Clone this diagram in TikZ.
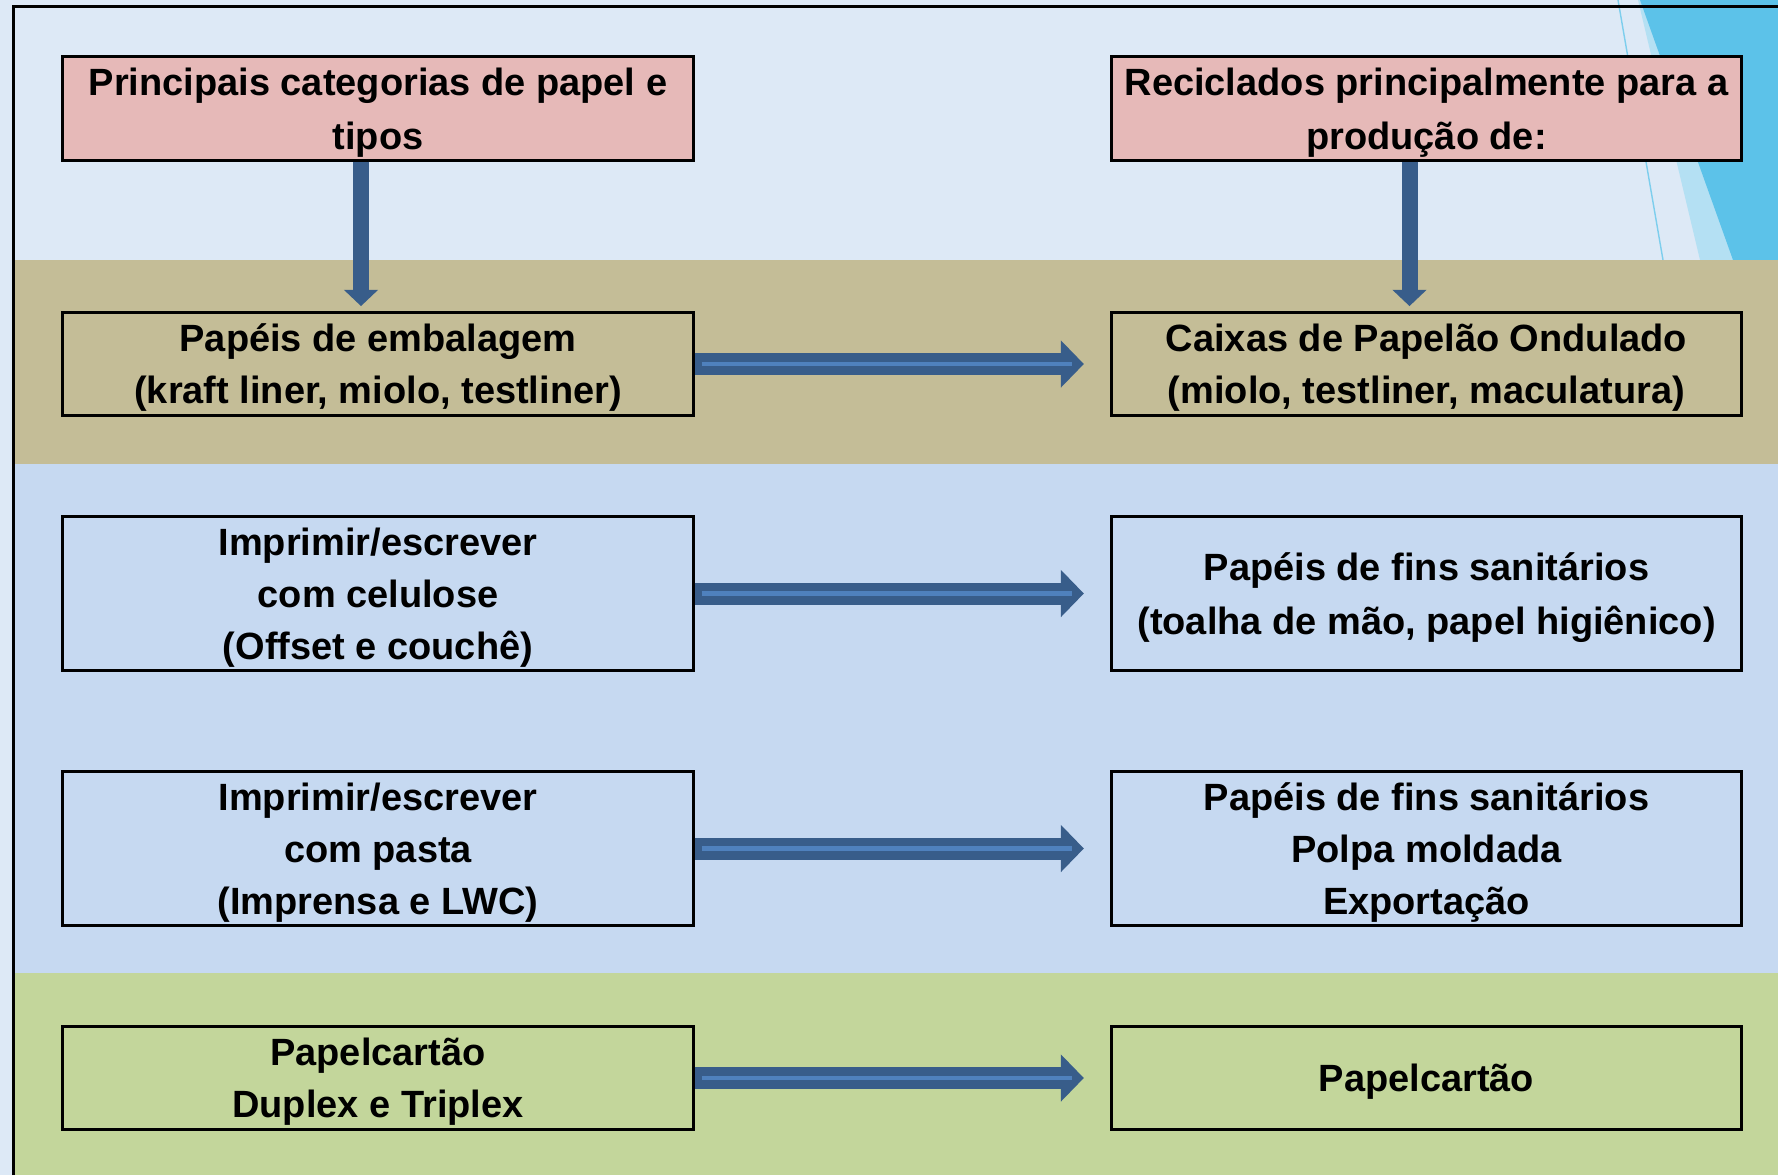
\documentclass[tikz,border=0pt]{standalone}
\usepackage{fontspec}
\setmainfont{Liberation Sans}
\usetikzlibrary{arrows.meta,calc}

\definecolor{sky}{RGB}{221,233,246}
\definecolor{skydark}{RGB}{92,194,233}
\definecolor{skypale}{RGB}{180,224,243}
\definecolor{tanband}{RGB}{196,189,151}
\definecolor{blueband}{RGB}{198,217,241}
\definecolor{greenband}{RGB}{195,214,155}
\definecolor{pinkbox}{RGB}{230,185,184}
\definecolor{arrowblue}{RGB}{56,93,138}
\definecolor{innerblue}{RGB}{79,129,189}

\begin{document}
\begin{tikzpicture}[
  x=0.01cm, y=-0.01cm,
  font=\bfseries\fontsize{10.8}{14.8}\selectfont,
  box/.style={draw=black, line width=0.85pt, minimum width=6.3cm, minimum height=1.03cm, align=center, inner sep=0pt, text depth=-2.2pt},
  tallbox/.style={box, minimum height=1.53cm},
  harrow/.style={line width=6.26pt, draw=arrowblue, shorten >=7.4pt, -{Triangle[width=13.4pt,length=6.5pt,line width=0pt]}},
  hline/.style={line width=1.15pt, draw=innerblue},
  varrow/.style={line width=4.55pt, draw=arrowblue, shorten >=1.4pt, -{Triangle[width=9.7pt,length=4.6pt,line width=0pt]}}
]

\def\W{1778}
\def\H{1175}
\def\xl{378}
\def\xr{1426.5}

\useasboundingbox (0,0) rectangle (\W,\H);
\fill[sky] (0,0) rectangle (\W,\H);
\fill[skypale] (1638,0) -- (\W,0) -- (\W,260) -- (1700,260) -- cycle;
\fill[skydark] (1640,0) -- (\W,0) -- (\W,260) -- (1733,260) -- cycle;
\draw[skydark!80, line width=0.4pt] (1618,0) -- (1663,260);
\fill[tanband] (13,260) rectangle (\W,464);
\fill[blueband] (13,464) rectangle (\W,973);
\fill[greenband] (13,973) rectangle (\W,\H);
\draw[line width=0.85pt] (13.5,\H) -- (13.5,6.5) -- (\W,6.5);

\node[box, fill=pinkbox, font=\bfseries\fontsize{10.8}{15.3}\selectfont, text depth=-3.2pt] (l1) at (\xl,108.5) {Principais categorias de papel e\\tipos};
\node[box, fill=pinkbox, font=\bfseries\fontsize{10.8}{15.3}\selectfont, text depth=-3.2pt] (r1) at (\xr,108.5) {Reciclados principalmente para a\\produção de:};

\node[box, fill=tanband] (l2) at (\xl,364) {Papéis de embalagem\\(kraft liner, miolo, testliner)};
\node[box, fill=tanband] (r2) at (\xr,364) {Caixas de Papelão Ondulado\\(miolo, testliner, maculatura)};

\node[tallbox, fill=blueband] (l3) at (\xl,593.5) {Imprimir/escrever\\com celulose\\(Offset e couchê)};
\node[tallbox, fill=blueband, font=\bfseries\fontsize{10.8}{15.2}\selectfont] (r3) at (\xr,593.5) {Papéis de fins sanitários\\(toalha de mão, papel higiênico)};

\node[tallbox, fill=blueband] (l4) at (\xl,848.5) {Imprimir/escrever\\com pasta\\(Imprensa e LWC)};
\node[tallbox, fill=blueband] (r4) at (\xr,848.5) {Papéis de fins sanitários\\Polpa moldada\\Exportação};

\node[box, fill=greenband] (l5) at (\xl,1078) {Papelcartão\\Duplex e Triplex};
\node[box, fill=greenband] (r5) at (\xr,1078) {Papelcartão};

\draw[varrow] ($(l1.south)+(-17,0)$) -- ($(l2.north)+(-17,0)$);
\draw[varrow] ($(r1.south)+(-17,0)$) -- ($(r2.north)+(-17,0)$);

\foreach \r in {2,...,5} {
  \draw[harrow] (l\r.east) -- (r\r.west);
  \draw[hline] ($(l\r.east)+(7,0)$) -- ($(r\r.west)+(-38,0)$);
}

\end{tikzpicture}
\end{document}
